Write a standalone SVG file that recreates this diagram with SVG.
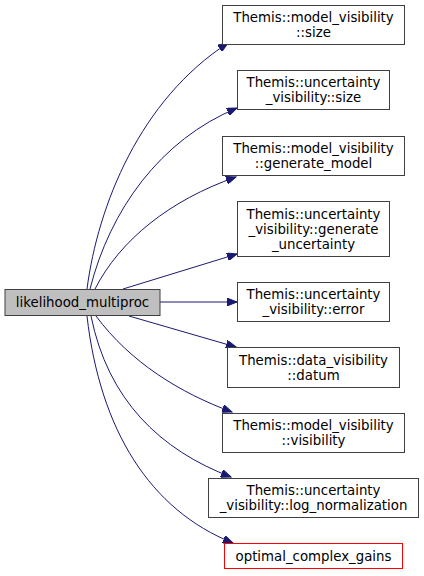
<svg xmlns="http://www.w3.org/2000/svg" width="424" height="576" viewBox="0 0 424 576">
<defs>
<style>
.n rect{fill:#ffffff;stroke:#404040;stroke-width:1}
.n text{font-family:"DejaVu Sans",sans-serif;font-size:13.33px;fill:#000;text-anchor:middle}
.main rect{fill:#bfbfbf}
.red rect{stroke:#ff0000}
.e path{fill:none;stroke:#191970;stroke-width:1;marker-end:url(#ah)}
</style>
<marker id="ah" markerWidth="11" markerHeight="8" refX="10" refY="4" orient="auto" markerUnits="userSpaceOnUse">
<path d="M0,0 L10,4 L0,8 Z" fill="#191970" stroke="#191970" stroke-width="1"/>
</marker>
</defs>
<rect width="424" height="576" fill="#ffffff"/>
<g id="edges" class="e">
<path d="M87,289 C98,205 140,100 228,43"/>
<path d="M90,289 C110,210 160,140 237,108"/>
<path d="M95,289 C120,240 170,200 236,177"/>
<path d="M123,289 L237,254"/>
<path d="M160,302 L237,302"/>
<path d="M129,316 L236,347"/>
<path d="M96,316 C130,362 180,393 232,412"/>
<path d="M91,316 C108,400 160,450 231,477"/>
<path d="M87,316 C100,430 150,510 233,543"/>
</g>
<g id="likelihood_multiproc" class="n main">
<rect x="5" y="289.5" width="155" height="26"/>
<text x="82.5" y="307">likelihood_multiproc</text>
</g>
<g id="mv_size" class="n">
<rect x="222.5" y="5.5" width="182" height="39"/>
<text x="313.5" y="22">Themis::model_visibility</text>
<text x="313.5" y="37">::size</text>
</g>
<g id="uv_size" class="n">
<rect x="237.5" y="70.5" width="152" height="39"/>
<text x="313.5" y="87">Themis::uncertainty</text>
<text x="313.5" y="102">_visibility::size</text>
</g>
<g id="mv_generate_model" class="n">
<rect x="222.5" y="136.5" width="182" height="39"/>
<text x="313.5" y="153">Themis::model_visibility</text>
<text x="313.5" y="168">::generate_model</text>
</g>
<g id="uv_generate_uncertainty" class="n">
<rect x="237.5" y="201.5" width="152" height="55"/>
<text x="313.5" y="218.5">Themis::uncertainty</text>
<text x="313.5" y="233.5">_visibility::generate</text>
<text x="313.5" y="248.5">_uncertainty</text>
</g>
<g id="uv_error" class="n">
<rect x="237.5" y="282.5" width="152" height="39"/>
<text x="313.5" y="299">Themis::uncertainty</text>
<text x="313.5" y="314">_visibility::error</text>
</g>
<g id="dv_datum" class="n">
<rect x="227.5" y="347.5" width="172" height="40"/>
<text x="313.5" y="364.5">Themis::data_visibility</text>
<text x="313.5" y="379.5">::datum</text>
</g>
<g id="mv_visibility" class="n">
<rect x="222.5" y="413.5" width="182" height="39"/>
<text x="313.5" y="430">Themis::model_visibility</text>
<text x="313.5" y="445">::visibility</text>
</g>
<g id="uv_log_normalization" class="n">
<rect x="208.5" y="478.5" width="210" height="39"/>
<text x="313.5" y="495">Themis::uncertainty</text>
<text x="313.5" y="510">_visibility::log_normalization</text>
</g>
<g id="optimal_complex_gains" class="n red">
<rect x="224.5" y="543.5" width="178" height="25"/>
<text x="313.5" y="561">optimal_complex_gains</text>
</g>
</svg>
